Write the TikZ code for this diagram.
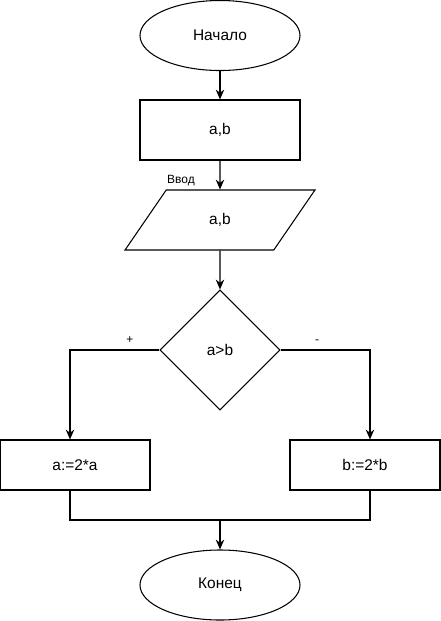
\documentclass[tikz,border=0pt]{standalone}
\usepackage{fontspec}
\setmainfont{Liberation Sans}
\usetikzlibrary{
  positioning,
  arrows.meta,
  shapes.geometric
}

\begin{document}
\begin{tikzpicture}[
  x=0.025cm, y=-0.025cm, line width=0.75pt,
  every node/.style={font=\fontsize{11}{13}\selectfont},
  term/.style={draw, ellipse, minimum width=4cm, minimum height=1.75cm, inner sep=0pt},
  proc/.style={draw, rectangle, minimum width=4cm, minimum height=1.5cm, inner sep=0pt},
  io/.style={draw, trapezium, trapezium left angle=58, trapezium right angle=122,
             trapezium stretches=true, minimum width=4.75cm, minimum height=1.5cm, inner sep=0pt},
  cond/.style={draw, diamond, aspect=1, minimum width=3cm, minimum height=3cm, inner sep=0pt},
  branch/.style={proc, minimum width=3.75cm, minimum height=1.25cm},
  small/.style={font=\fontsize{8.5}{10}\selectfont},
  flow/.style={-{Stealth[length=7pt, width=6pt]}},
]
  \useasboundingbox (0,0) rectangle (441,621);

  \node[term] (start) at (220,35.5) {Начало};
  \node[proc] (inp) at (220,130) {a,b};
  \node[io] (read) at (220,220) {a,b};
  \node[cond] (cmp) at (220,350) {a>b};
  \node[branch] (dbla) at (75,465) {a:=2*a};
  \node[branch] (dblb) at (365,465) {b:=2*b};
  \node[term] (stop) at (220,585) {Конец};

  \node[small] (vvod) at (181,181) {Ввод};

  \coordinate (pl) at (70,350);
  \coordinate (pr) at (370,350);
  \coordinate (join) at (220,520);

  \draw[flow] (start) -- (inp);
  \draw[flow] (inp) -- (read);
  \draw[flow] (read) -- (cmp);

  % branches
  \draw[flow] (cmp.west) -- node[small, pos=0.33, above=1pt] (plus) {+} (pl) -- (pl |- dbla.north);
  \draw[flow] (cmp.east) -- node[small, pos=0.41, above=1pt] (minus) {-} (pr) -- (pr |- dblb.north);

  \draw (pl |- dbla.south) |- (join);
  \draw (pr |- dblb.south) |- (join);
  \draw[flow] (join) -- (stop);
\end{tikzpicture}
\end{document}
